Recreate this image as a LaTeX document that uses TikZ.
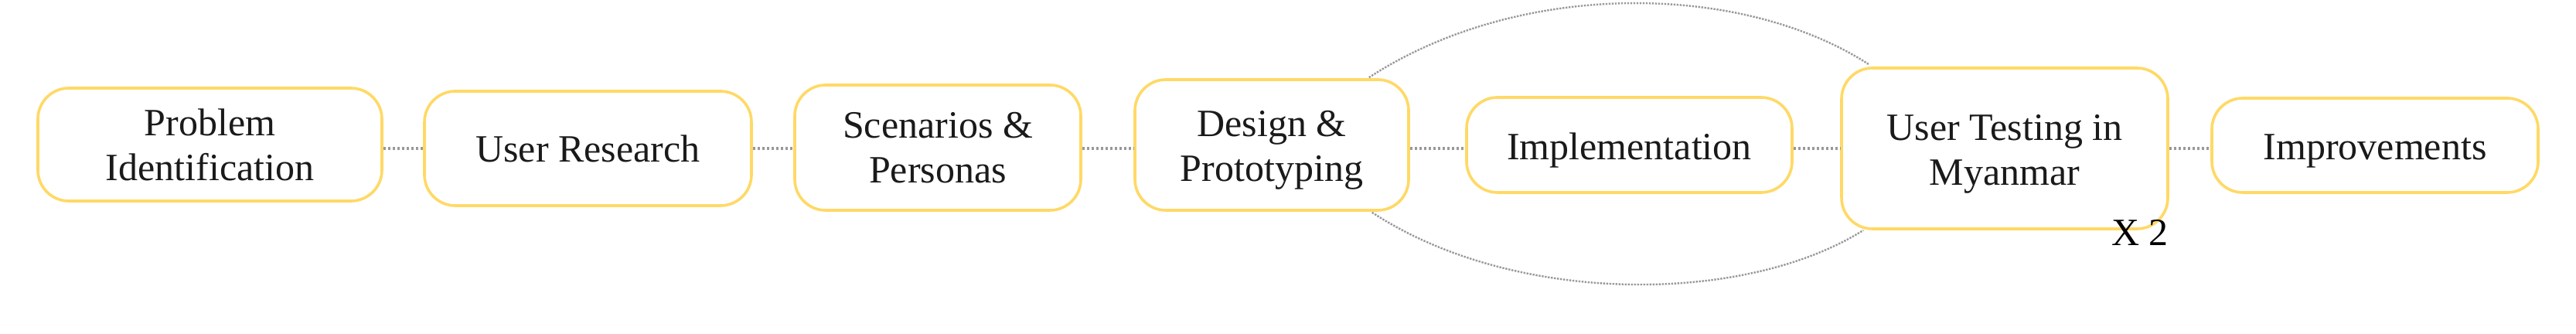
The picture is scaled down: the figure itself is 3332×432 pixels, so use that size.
\documentclass[tikz,border=0pt]{standalone}
\usepackage{fontspec}
\setmainfont{Liberation Serif}
\newcommand\lowline[1]{\raisebox{-3.5pt}[\height][\depth]{#1}}
\begin{document}
\begin{tikzpicture}[x=0.5pt,y=-0.5pt,
  stage/.style={draw=boxyellow, line width=1.8pt, rounded corners=20pt, fill=white,
    align=center, inner sep=0pt, text=textdark,
    font=\fontsize{25}{29}\selectfont},
  link/.style={draw=linkgray, line width=2.3pt, dash pattern=on 1.8pt off 1.2pt},
  loop/.style={draw=linkgray, line width=1.2pt, dash pattern=on 1.2pt off 0.8pt}]
\definecolor{boxyellow}{HTML}{FFD966}
\definecolor{linkgray}{HTML}{999999}
\definecolor{textdark}{HTML}{1A1A1A}
\useasboundingbox (0,0) rectangle (3332,432);
\coordinate (L) at (0,192);
\node[stage, minimum width=222.5pt, minimum height=73pt] (s1) at (271.5,187) {Problem\\Identification};
\node[stage, minimum width=211.5pt, minimum height=74pt] (s2) at (760.5,192) {User Research};
\node[stage, minimum width=185pt, minimum height=81pt] (s3) at (1213,191) {Scenarios \&\\Personas};
\node[stage, minimum width=177pt, minimum height=84.5pt] (s4) at (1645,187.5) {\lowline{Design \&}\\\lowline{Prototyping}};
\node[stage, minimum width=210.5pt, minimum height=61.5pt] (s5) at (2107.5,187.5) {\lowline{Implementation}};
\node[stage, minimum width=211pt, minimum height=104pt] (s6) at (2593,192) {\lowline{User Testing in}\\\lowline{Myanmar}};
\node[stage, minimum width=211pt, minimum height=61pt] (s7) at (3072,188) {\lowline{Improvements}};
\node[anchor=base east, inner sep=0pt, font=\fontsize{25}{29}\selectfont] (x2) at (2805,318) {X 2};
\draw[link] (s1.east |- L) -- (s2.west |- L);
\draw[link] (s2.east |- L) -- (s3.west |- L);
\draw[link] (s3.east |- L) -- (s4.west |- L);
\draw[link] (s4.east |- L) -- (s5.west |- L);
\draw[link] (s5.east |- L) -- (s6.west |- L);
\draw[link] (s6.east |- L) -- (s7.west |- L);
\coordinate (ua) at ([xshift=-26.5pt,yshift=0.5pt]s4.north east);
\coordinate (ub) at ([xshift=18.5pt,yshift=1.5pt]s6.north west);
\coordinate (la) at ([xshift=-24.5pt,yshift=-0.5pt]s4.south east);
\coordinate (lb) at ([xshift=15pt,yshift=0pt]s6.south west);
\draw[loop] (ua) .. controls (1963,-25) and (2249,-25) .. (ub);
\draw[loop] (la) .. controls (1958,395) and (2255,395) .. (lb);
\end{tikzpicture}
\end{document}
